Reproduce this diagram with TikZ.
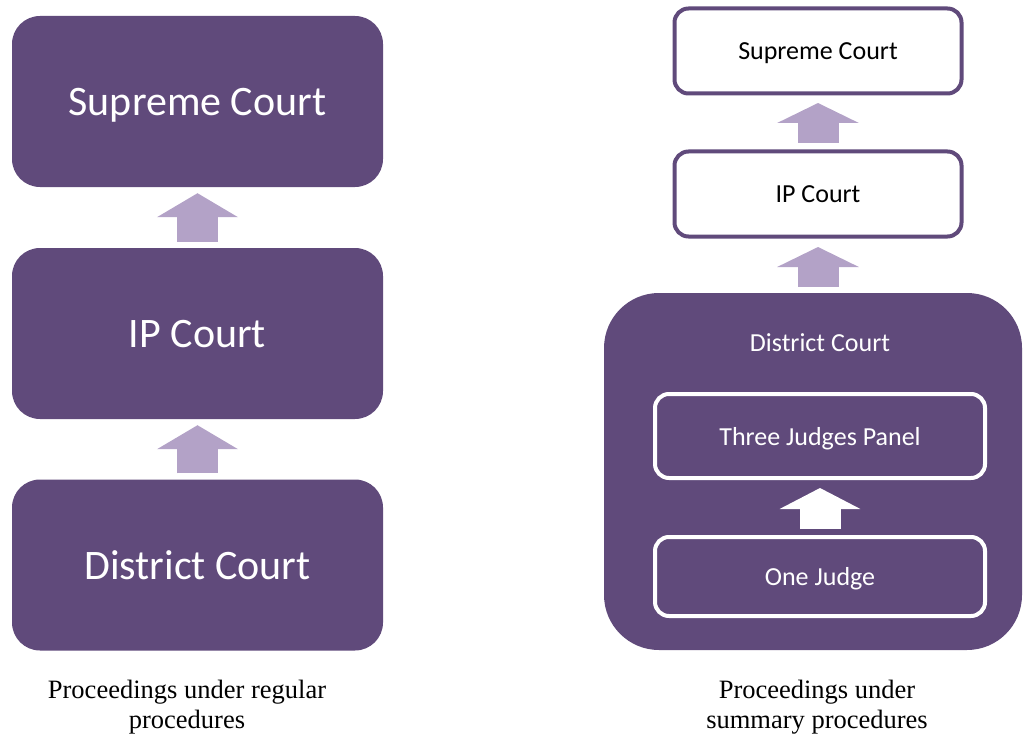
\documentclass[tikz,border=0pt]{standalone}
\usepackage{fontspec}
\setmainfont{Carlito}
\newfontfamily\captionfont{Liberation Serif}
\usetikzlibrary{arrows.meta}
\definecolor{courtPurple}{HTML}{604A7B}
\definecolor{arrowLilac}{HTML}{B3A2C7}
\tikzstyle{courtNode}=[rectangle, rounded corners=28pt, fill=courtPurple, text=white, minimum width=371pt, minimum height=171pt, inner sep=0pt, text depth=0pt, font=\fontsize{42}{50}\selectfont]
\tikzstyle{appealNode}=[rectangle, rounded corners=14pt, draw=courtPurple, line width=4pt, fill=white, minimum width=287pt, minimum height=85pt, inner sep=0pt, text depth=0pt, font=\fontsize{26}{31}\selectfont]
\tikzstyle{districtNode}=[rectangle, rounded corners=55pt, fill=courtPurple, minimum width=418pt, minimum height=357pt, inner sep=0pt]
\tikzstyle{benchNode}=[rectangle, rounded corners=14pt, draw=white, line width=4pt, minimum width=330pt, inner sep=0pt, text=white, text depth=0pt, font=\fontsize{26}{31}\selectfont]
\tikzstyle{appealArrow}=[line width=41pt, -{Triangle[width=80pt, length=24pt]}, arrowLilac]
\tikzstyle{captionNode}=[align=center, font=\captionfont\fontsize{26.5}{30}\selectfont]

\begin{document}
\begin{tikzpicture}[x=1pt, y=-1pt]
	\useasboundingbox (0,0) rectangle (1024,738);

	\node[courtNode] (sc1) at (197.5, 101.5) {Supreme Court};
	\node[courtNode] (ip1) at (197.5, 333.5) {IP Court};
	\node[courtNode] (dc1) at (197.5, 565) {District Court};

	\draw[appealArrow, shorten <=6pt, shorten >=6pt] (ip1) -- (sc1);
	\draw[appealArrow, shorten <=6pt, shorten >=6pt] (dc1) -- (ip1);

	\node[appealNode] (sc2) at (818, 51) {Supreme Court};
	\node[appealNode] (ip2) at (818, 194) {IP Court};
	\node[districtNode] (dc2) at (813, 471.5) {};
	\node[text=white, text depth=0pt, font=\fontsize{26}{31}\selectfont] (dc2label) at (820, 343) {District Court};
	\node[benchNode, minimum height=84pt] (tp) at (820, 436) {Three Judges Panel};
	\node[benchNode, minimum height=79pt] (oj) at (820, 576.5) {One Judge};

	\draw[appealArrow, -{Triangle[width=81pt, length=20pt]}, shorten <=6.5pt, shorten >=7.5pt] (ip2) -- (sc2);
	\draw[appealArrow, -{Triangle[width=81pt, length=20pt]}, shorten <=6pt, shorten >=8.5pt] (dc2.north -| ip2) -- (ip2);
	\draw[appealArrow, white, -{Triangle[width=80pt, length=21pt]}, shorten <=6pt, shorten >=8pt] (oj) -- (tp);

	\node[captionNode] (cap1) at (187, 707) {Proceedings under regular\\procedures};
	\node[captionNode] (cap2) at (817, 707) {Proceedings under\\summary procedures};
\end{tikzpicture}
\end{document}
